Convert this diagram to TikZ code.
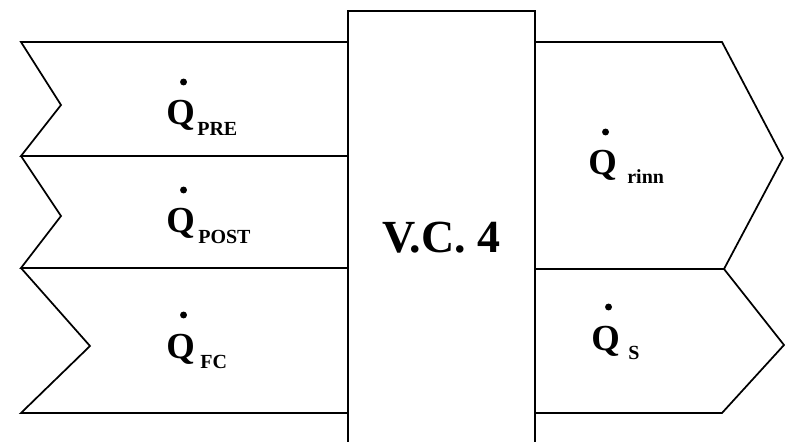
\documentclass[tikz,border=0pt]{standalone}
\usepackage{fontspec}
\setmainfont{Liberation Serif}
\usetikzlibrary{positioning, calc}

\begin{document}
\begin{tikzpicture}[
    x=0.75pt, y=-0.75pt,
    band/.style={line width=1.3pt, line join=miter},
    volume/.style={rectangle, draw, line width=1.7pt, minimum width=140.25pt, minimum height=340pt, inner sep=0pt, font=\fontsize{34.5}{34.5}\bfseries\selectfont},
    qsym/.style={inner sep=0pt, anchor=base west, font=\fontsize{27.5}{27.5}\bfseries\selectfont},
    qsub/.style={inner sep=0pt, anchor=base west, font=\fontsize{15}{15}\bfseries\selectfont}
]

\clip (0,0) rectangle (785,442);

% Control volume
\node[volume] (vc) at (441.5,238) {V.C. 4};

% ============ LEFT SIDE: inflows ============
\coordinate (in-top) at (21,42);
\coordinate (in-mid1) at (21,156);
\coordinate (in-mid2) at (21,268);
\coordinate (in-bot) at (21,413);

\draw[band] (vc.west |- in-top) -- (in-top) -- (61,105) -- (in-mid1) -- (vc.west |- in-mid1);
\draw[band] (in-mid1) -- (61,216) -- (in-mid2) -- (vc.west |- in-mid2);
\draw[band] (in-mid2) -- (90,346) -- (in-bot) -- (vc.west |- in-bot);

% Labels
\node[qsym] (q-pre) at (166,125) {Q};
\node[qsub] (q-pre-sub) at ([shift={(2,11)}]q-pre.base east) {PRE};
\fill ([shift={(3,-43)}]q-pre.base) circle (2.6pt);

\node[qsym] (q-post) at (166,233) {Q};
\node[qsub] (q-post-sub) at ([shift={(3,10)}]q-post.base east) {POST};
\fill ([shift={(3,-43)}]q-post.base) circle (2.6pt);

\node[qsym] (q-fc) at (166,358) {Q};
\node[qsub] (q-fc-sub) at ([shift={(5,10)}]q-fc.base east) {FC};
\fill ([shift={(3,-43)}]q-fc.base) circle (2.6pt);

% ============ RIGHT SIDE: outflows ============
\coordinate (out-top) at (722,42);
\coordinate (out-mid) at (724,269);
\coordinate (out-bot) at (722,413);

\draw[band] (vc.east |- out-top) -- (out-top) -- (783,158) -- (out-mid) -- (vc.east |- out-mid);
\draw[band] (out-mid) -- (784,345) -- (out-bot) -- (vc.east |- out-bot);

% Labels
\node[qsym] (q-rinn) at (588,175) {Q};
\node[qsub] (q-rinn-sub) at ([shift={(10,9)}]q-rinn.base east) {rinn};
\fill ([shift={(3,-43)}]q-rinn.base) circle (2.6pt);

\node[qsym] (q-s) at (591,350) {Q};
\node[qsub] (q-s-sub) at ([shift={(8,9)}]q-s.base east) {S};
\fill ([shift={(3,-43)}]q-s.base) circle (2.6pt);

\end{tikzpicture}
\end{document}
